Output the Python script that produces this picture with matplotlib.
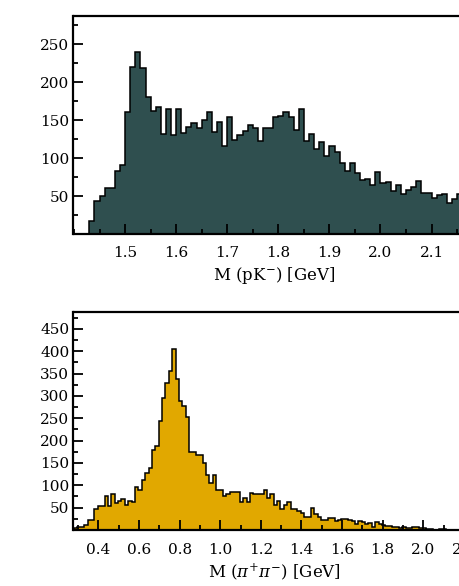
import numpy as np
import matplotlib.pyplot as plt
from matplotlib.ticker import MultipleLocator

plt.rcParams['font.family'] = ['DejaVu Serif']
plt.rcParams['mathtext.fontset'] = 'dejavuserif'

# M(pK-): 10 MeV bins from 1.43 GeV
pk_start = 1.43
pk_width = 0.01
pk_counts = [17, 43, 50, 60, 60, 83, 91, 160, 220, 239,
             219, 181, 162, 167, 131, 164, 130, 165, 133, 141,
             146, 140, 150, 160, 134, 148, 116, 154, 124, 130,
             135, 144, 140, 122, 140, 139, 154, 156, 161, 154,
             137, 165, 123, 132, 112, 121, 103, 116, 108, 94,
             83, 94, 80, 71, 73, 64, 82, 67, 68, 57,
             64, 53, 58, 62, 70, 54, 54, 48, 51, 53,
             41, 46, 53]
pk_ticks = [1.5, 1.6, 1.7, 1.8, 1.9, 2.0, 2.1]

# M(pi+pi-): 1/60 GeV bins from 0.28 GeV
pipi_start = 0.28
pipi_width = 1 / 60
pipi_counts = [4, 7, 7, 11, 23, 23, 47, 53, 53, 77,
               53, 80, 61, 66, 70, 56, 64, 62, 96, 90,
               113, 128, 139, 180, 187, 243, 296, 330, 356, 406,
               339, 289, 277, 253, 174, 174, 169, 169, 150, 124,
               106, 124, 90, 90, 76, 80, 84, 84, 84, 62,
               71, 63, 83, 80, 80, 80, 89, 72, 80, 57,
               64, 46, 57, 62, 46, 47, 42, 38, 30, 30,
               49, 36, 30, 22, 22, 26, 27, 20, 23, 25,
               25, 23, 20, 14, 21, 19, 14, 15, 6, 17,
               14, 11, 8, 8, 6, 6, 4, 6, 5, 5,
               6, 6, 5, 5, 2, 2, 1, 1, 2, 2,
               1, 1, 1, 1]
pipi_ticks = [0.4, 0.6, 0.8, 1.0, 1.2, 1.4, 1.6, 1.8, 2.0, 2.2]

W, H = 460, 586
fig = plt.figure(figsize=(W / 100, H / 100), dpi=100)
ax1 = fig.add_axes([73.5 / W, (H - 234) / H, 401.5 / W, 218 / H])
ax2 = fig.add_axes([73.5 / W, (H - 530) / H, 401.5 / W, 218 / H])


def draw(ax, start, width, counts, color, xlim, ylim, xticks, xmin, yticks, xlabel):
    edges = start + width * np.arange(len(counts) + 1)
    ax.hist(edges[:-1], bins=edges, weights=counts, histtype='stepfilled',
            facecolor=color, edgecolor='black', linewidth=1.1)
    ax.set_xlim(*xlim)
    ax.set_ylim(*ylim)
    ax.set_xticks(xticks)
    ax.xaxis.set_minor_locator(MultipleLocator(xmin))
    ax.set_yticks(yticks)
    ax.yaxis.set_minor_locator(MultipleLocator(25))
    ax.tick_params(which='both', direction='in', width=1.3, labelsize=11)
    ax.tick_params(which='major', length=7.5)
    ax.tick_params(which='minor', length=3.5)
    ax.tick_params(axis='x', pad=9)
    ax.tick_params(axis='y', pad=3)
    for s in ax.spines.values():
        s.set_linewidth(1.6)
    ax.set_xlabel(xlabel, fontsize=12, labelpad=3)


draw(ax1, pk_start, pk_width, pk_counts, '#2f4f4f',
     (1.399, 2.185), (0, 287), pk_ticks, 0.05, np.arange(50, 251, 50),
     r'M (pK$^{-}$) [GeV]')
draw(ax2, pipi_start, pipi_width, pipi_counts, '#e1a800',
     (0.277, 2.255), (0, 488), pipi_ticks, 0.1, np.arange(50, 451, 50),
     r'M ($\pi^{+}\pi^{-}$) [GeV]')

fig.savefig('out.png', dpi=100)
